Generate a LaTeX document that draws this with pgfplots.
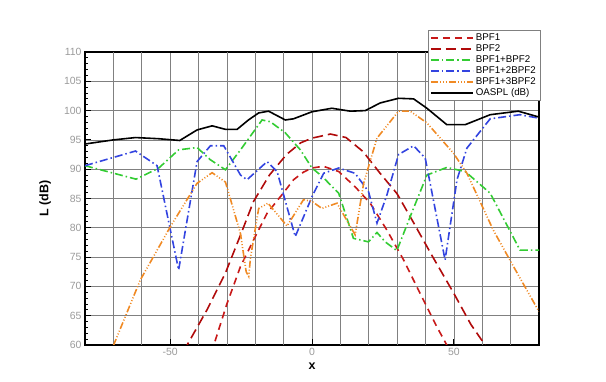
\documentclass[border=0pt]{standalone}
\usepackage{fontspec}
\setmainfont{Liberation Sans}
\usepackage{pgfplots}
\pgfplotsset{compat=1.18}
\definecolor{cBone}{HTML}{C81818}
\definecolor{cBtwo}{HTML}{B00A0A}
\definecolor{cGreen}{HTML}{33CC33}
\definecolor{cBlue}{HTML}{3344E0}
\definecolor{cOrange}{HTML}{F08A24}
\definecolor{tickgray}{HTML}{9A9A9A}
\begin{document}
\begin{tikzpicture}
\begin{axis}[name=ax,
  width=454bp, height=293bp, scale only axis,
  xmin=-80, xmax=80, ymin=60, ymax=110,
  clip=true,
  xtick={-50,0,50},
  extra x ticks={-70,-60,-40,-30,-20,-10,10,20,30,40,60,70},
  extra x tick labels={},
  extra x tick style={grid=major, major tick length=0pt},
  ytick={60,65,...,110},
  minor y tick num=4,
  tick pos=left,
  tick align=inside,
  major tick length=6bp,
  minor tick length=3bp,
  every tick/.style={black, line width=0.9bp},
  grid=major,
  major grid style={black!50, line width=0.7bp},
  axis line style={black, line width=1.6bp},
  /pgf/number format/assume math mode=true,
  tick label style={font=\fontsize{10.5}{12}\selectfont, text=tickgray},
  xlabel={\textbf{x}},
  ylabel={\textbf{L (dB)}},
  xlabel style={at={(axis description cs:0.5,-0.072)}, anchor=center, font=\fontsize{12.5}{14}\selectfont},
  ylabel style={at={(axis description cs:-0.088,0.5)}, anchor=center, font=\fontsize{12.5}{14}\selectfont},
  legend cell align=left,
  legend style={at={(axis description cs:0.755,1.075)}, anchor=north west,
    font=\fontsize{9.8}{10.5}\selectfont,
    nodes={text height=7.5bp, text depth=2.5bp, inner ysep=0.5bp},
    row sep=0bp, inner xsep=2bp, inner ysep=2bp, fill=white, draw=black!50},
  legend image post style={line width=1.8bp},
  legend image code/.code={\draw[#1] (0bp,0bp) -- (42bp,0bp);},
]
\addplot[cBone, line width=1.6bp, dash pattern=on 7bp off 5bp] coordinates {
(-38,57) (-34.6,60) (-30,67) (-25.2,73.4) (-20,78.5) (-15.8,82.5) (-10,86) (-6.5,88.2) (-3,89.5) (0,90.2) (4,90.5) (9.4,89.6) (15.2,87) (20.5,84.2) (26.4,79.6) (32.3,74.5) (38.1,68.8) (44,63.1) (47.5,60) (50,57)
};
\addlegendentry{BPF1}
\addplot[cBtwo, line width=1.6bp, dash pattern=on 10bp off 5bp] coordinates {
(-47,56.5) (-44,60) (-37,66) (-30.5,72.3) (-25,79) (-20.6,84.5) (-15,89) (-9,92.5) (-4,94.5) (0,95.3) (6.5,96) (12,95.4) (18,93) (24,89.3) (30,85.8) (36,80.7) (42,75.5) (50,68.8) (56,63.5) (61,60) (64,57)
};
\addlegendentry{BPF2}
\addplot[cGreen, line width=1.6bp, dash pattern=on 8bp off 3bp on 1.5bp off 3bp] coordinates {
(-80,90.6) (-62,88.3) (-54,90.2) (-47,93.3) (-40.5,93.7) (-35.8,91.6) (-30.5,89.9) (-25.2,93.3) (-17.6,98.4) (-14.7,98.1) (-9.4,96.2) (-4.1,93.3) (0,90.2) (3.5,88.8) (9.4,85.9) (14.6,78.2) (19.9,77.6) (22.9,79.2) (25.8,77.6) (29.9,76.1) (34.6,81.9) (40.5,89.0) (47.5,90.3) (54,89.6) (62.8,85.9) (73.3,76.2) (80,76.2)
};
\addlegendentry{BPF1+BPF2}
\addplot[cBlue, line width=1.6bp, dash pattern=on 8bp off 3bp on 1.5bp off 3bp] coordinates {
(-80,90.6) (-62.2,93.1) (-54.6,90.6) (-47,72.8) (-40.5,91.3) (-35.8,94.0) (-31.1,94.0) (-25.2,89.0) (-22.9,88.2) (-15.8,91.3) (-12.3,89.6) (-5.9,78.5) (0,85.3) (4.1,89.3) (9.4,90.2) (15.2,89.3) (19.9,86.2) (22.9,80.8) (26.4,85.6) (30.5,92.5) (35.8,94.0) (39.9,91.9) (46.9,74.5) (51.1,88.2) (54.6,93.6) (62.8,98.6) (73.3,99.3) (80,98.7)
};
\addlegendentry{BPF1+2BPF2}
\addplot[cOrange, line width=1.6bp, dash pattern=on 7bp off 2bp on 1bp off 2bp on 1bp off 2bp on 1bp off 2bp] coordinates {
(-72,57) (-69.9,60) (-60.5,71.1) (-49.9,80.2) (-40.5,87.6) (-35.2,89.4) (-30.5,87.8) (-25.2,79) (-23.2,72.5) (-22.3,71.7) (-21.7,74.8) (-18.8,83.3) (-15.5,84.2) (-8.8,80.3) (-3,84.8) (0,84.5) (3.5,83.3) (8.8,84.2) (15.2,78.8) (18.2,87.6) (22.9,95.3) (30.5,99.9) (34.6,99.9) (40.5,97.9) (49.9,92.7) (54.6,89.3) (63.9,79.6) (71,73.4) (80,65.7)
};
\addlegendentry{BPF1+3BPF2}
\addplot[black, line width=1.6bp] coordinates {
(-80,94.3) (-70,95.0) (-62.2,95.4) (-54,95.2) (-46.6,94.9) (-40.5,96.7) (-35.2,97.4) (-30.5,96.8) (-26.4,96.8) (-22.4,98.4) (-18.8,99.6) (-15.3,99.9) (-9.4,98.4) (-6.5,98.6) (0,99.8) (7,100.4) (13.5,99.9) (18.8,100.0) (24,101.3) (30.5,102.1) (35.8,102.0) (40.5,100.4) (47.5,97.6) (54,97.6) (62.8,99.3) (72.7,99.9) (80,98.9)
};
\addlegendentry{OASPL (dB)}
\end{axis}
\path ([shift={(-85bp,-37bp)}]ax.south west) rectangle ([shift={(67bp,52bp)}]ax.north east);
\end{tikzpicture}
\end{document}
